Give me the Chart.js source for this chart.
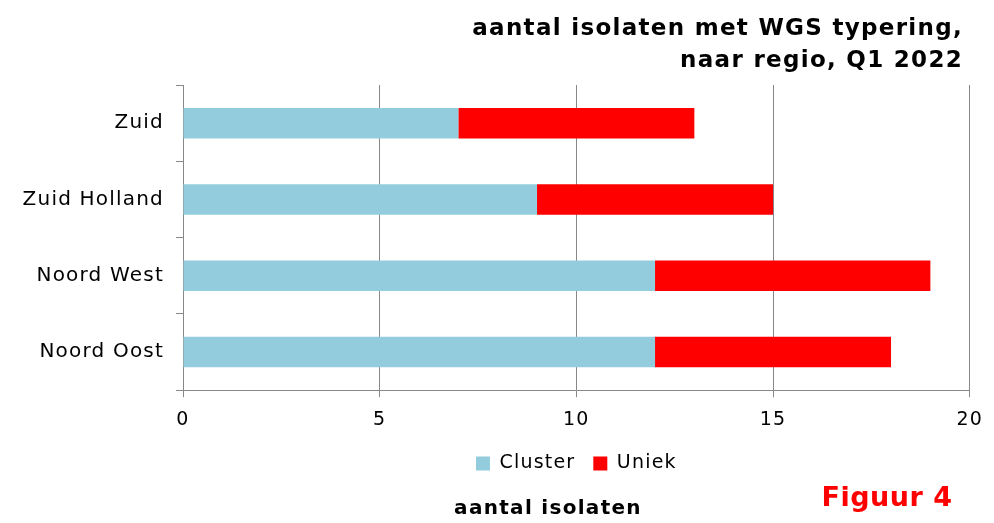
<!DOCTYPE html>
<html>
<head>
<meta charset="utf-8">
<script src="https://cdn.jsdelivr.net/npm/chart.js@4/dist/chart.umd.min.js"></script>
<style>
  html, body { margin: 0; padding: 0; background: #fff; }
  #wrap { width: 994px; height: 523px; position: relative; }
</style>
</head>
<body>
<div id="wrap"><canvas id="myChart" width="994" height="523"></canvas></div>
<script>
// data
const regions = ['Zuid', 'Zuid Holland', 'Noord West', 'Noord Oost'];
const cluster = [7, 9, 12, 12];
const uniek = [6, 6, 7, 6];
const xTicks = [0, 5, 10, 15, 20];

const titleLines = ['aantal isolaten met WGS typering,', 'naar regio, Q1 2022'];
const font = 'DejaVu Sans';

// the original text is wide, so spread letters a little
const spacing = {
  id: 'spacing',
  beforeUpdate(chart) { chart.ctx.letterSpacing = '1.2px'; },
  beforeDraw(chart) { chart.ctx.letterSpacing = '1.2px'; }
};

// title and texts under the chart
const extraText = {
  id: 'extraText',
  afterDraw(chart) {
    const c = chart.ctx;
    c.save();
    c.letterSpacing = '1.3px';
    c.textBaseline = 'middle';
    c.fillStyle = '#000';
    c.textAlign = 'right';
    c.font = 'bold 23px "' + font + '"';
    c.fillText(titleLines[0], 963, 29);
    c.fillText(titleLines[1], 963, 61);
    c.textAlign = 'center';
    c.font = 'bold 20px "' + font + '"';
    c.fillText('aantal isolaten', 548, 509);
    c.letterSpacing = '0.5px';
    c.fillStyle = '#ff0000';
    c.font = 'bold 27px "' + font + '"';
    c.fillText('Figuur 4', 887, 499);
    c.restore();
  }
};

const ctx = document.getElementById('myChart').getContext('2d');
const myChart = new Chart(ctx, {
  type: 'bar',
  data: {
    labels: regions,
    datasets: [
      { label: 'Cluster', data: cluster, backgroundColor: '#93cddd', barPercentage: 0.4, categoryPercentage: 1 },
      { label: 'Uniek', data: uniek, backgroundColor: '#ff0000', barPercentage: 0.4, categoryPercentage: 1 }
    ]
  },
  options: {
    indexAxis: 'y',
    responsive: false,
    animation: false,
    layout: { padding: { left: 0, right: 22, top: 85, bottom: 40 } },
    scales: {
      x: {
        stacked: true,
        min: 0,
        max: 20,
        afterBuildTicks: (axis) => { axis.ticks = xTicks.map(v => ({ value: v })); },
        afterFit: (axis) => { axis.height -= 6; },
        grid: { color: '#888', lineWidth: 1, tickLength: 7 },
        border: { color: '#888' },
        ticks: { color: '#000', font: { family: font, size: 19 }, padding: 11 }
      },
      y: {
        stacked: true,
        afterFit: (axis) => { axis.width = 183; },
        grid: { drawOnChartArea: false, color: '#888', tickLength: 7 },
        border: { color: '#888' },
        ticks: { color: '#000', font: { family: font, size: 20 }, padding: 12 }
      }
    },
    plugins: {
      title: { display: false },
      legend: {
        position: 'bottom',
        fullSize: false,
        labels: { color: '#000', font: { family: font, size: 19 }, boxWidth: 14, boxHeight: 14, padding: 18 }
      },
      tooltip: { enabled: false }
    }
  },
  plugins: [spacing, extraText]
});
</script>
</body>
</html>
